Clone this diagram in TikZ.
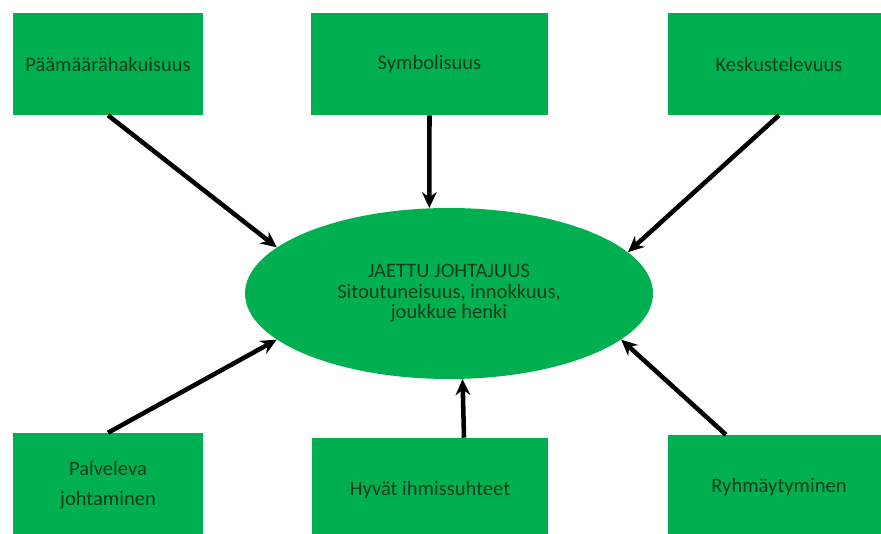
\documentclass[tikz,border=0pt]{standalone}
\usepackage{fontspec}
\setmainfont{Carlito}
\usepackage{tikz}
\usetikzlibrary{shapes.geometric}
\usetikzlibrary{arrows.meta}

\definecolor{boxgreen}{RGB}{0,176,80}
\definecolor{textgreen}{RGB}{10,62,28}

\tikzset{
  factor/.style={rectangle,fill=boxgreen,inner sep=0pt,align=center,text=textgreen,
    font=\fontsize{15.4}{22.5}\selectfont},
  core/.style={ellipse,fill=boxgreen,inner sep=0pt,align=center,text=textgreen,
    minimum width=306pt,minimum height=128.25pt,font=\fontsize{15.4}{15.4}\selectfont},
  arr/.style={line width=3.4pt,-{Stealth[length=12pt,width=11pt]}}
}

\begin{document}
\begin{tikzpicture}[x=0.75pt,y=-0.75pt]
  \useasboundingbox (0,0) rectangle (881,534);
  \clip (0,0) rectangle (881,534);
  \fill[white] (0,0) rectangle (881,534);

  % centre
  \node[core] (el) at (449,293.5) {JAETTU JOHTAJUUS\\Sitoutuneisuus, innokkuus,\\joukkue henki};

  % top row
  \node[factor,minimum width=142.5pt,minimum height=76.5pt]  (p1) at (108,64)   {Päämäärähakuisuus};
  \node[factor,minimum width=177.75pt,minimum height=76.5pt] (p2) at (429.5,64) {Symbolisuus};
  \node[factor,minimum width=166.5pt,minimum height=76.5pt]  (p3) at (779,64)   {Keskustelevuus};

  % bottom row
  \node[factor,minimum width=142.5pt,minimum height=78pt]  (b1) at (108,485) {Palveleva\\johtaminen};
  \node[factor,minimum width=177pt,minimum height=78pt]    (b2) at (430,490) {Hyvät ihmissuhteet};
  \node[factor,minimum width=166.5pt,minimum height=78pt]  (b3) at (779,487) {Ryhmäytyminen};

  \path[arr]
    (p1.south) edge (el.165.4)
    (p2.south) edge (el.103.2)
    (p3.south) edge (el.13.8)
    (b1.north) edge (el.195.6)
    ([xshift=25.5pt]b2.north) edge (el.279.9)
    ([xshift=-39.75pt]b3.north) edge (el.345);
\end{tikzpicture}
\end{document}
